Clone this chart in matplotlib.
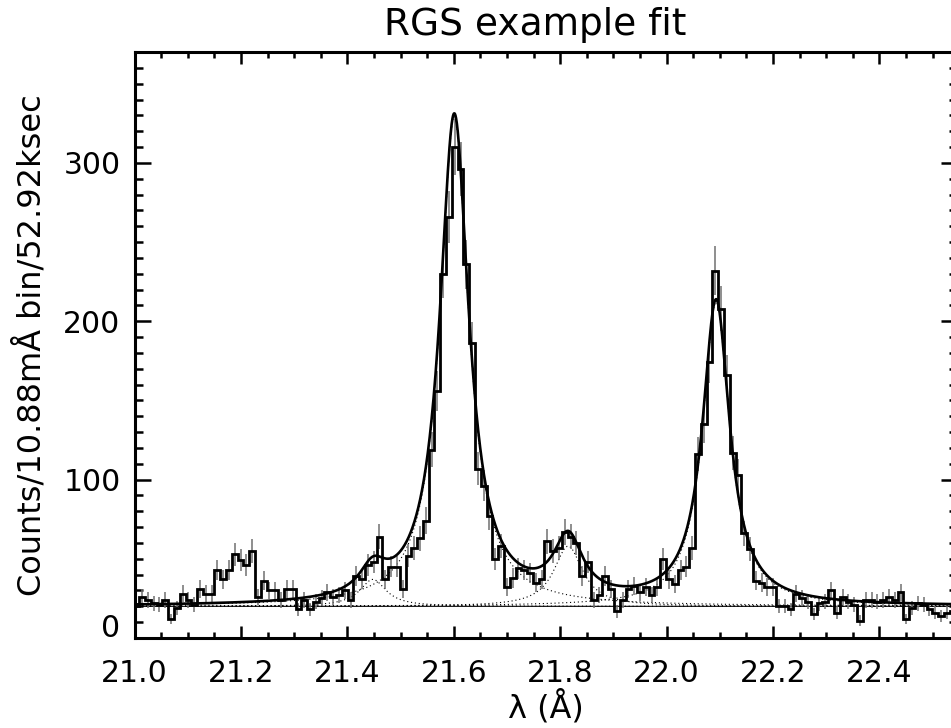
import numpy as np
import matplotlib.pyplot as plt
from matplotlib.ticker import MultipleLocator

# binned spectrum (counts per 10.88 mA bin)
bin_start = 20.998
bin_width = 0.01088
counts = [20, 26, 24, 22, 21, 24, 12, 19, 28, 24,
          21, 31, 28, 28, 43, 37, 43, 53, 49, 46,
          55, 26, 36, 30, 30, 24, 31, 31, 18, 24,
          18, 23, 25, 29, 26, 27, 30, 24, 39, 37,
          46, 48, 64, 37, 45, 45, 31, 52, 57, 63,
          74, 119, 156, 230, 266, 310, 296, 236, 186, 107,
          96, 77, 50, 58, 32, 38, 44, 43, 41, 35,
          37, 61, 55, 57, 67, 64, 60, 39, 48, 24,
          27, 39, 31, 17, 24, 31, 33, 29, 32, 27,
          32, 50, 37, 34, 43, 45, 57, 116, 135, 174,
          232, 208, 166, 117, 103, 66, 56, 36, 35, 32,
          32, 20, 20, 18, 28, 25, 23, 15, 22, 23,
          30, 16, 26, 23, 21, 11, 24, 24, 23, 24,
          26, 24, 29, 12, 19, 22, 21, 18, 16, 14,
          16, 17]

# fitted model: flat continuum + lorentzian lines
continuum = 20.0
line_centers = [21.448, 21.601, 21.815, 22.093]
line_peaks = [17, 309, 38, 192]
line_hwhm = [0.030, 0.033, 0.033, 0.031]

xticks = [21.0, 21.2, 21.4, 21.6, 21.8, 22.0, 22.2, 22.4]
yticks = [0, 100, 200, 300]

counts = np.array(counts, dtype=float)
edges = bin_start + bin_width * np.arange(len(counts) + 1)
mids = edges[:-1] + bin_width / 2

fig = plt.figure(figsize=(9.51, 7.28), dpi=100)
ax = fig.add_axes([134.5 / 951, 90 / 728, (956.6 - 134.5) / 951, 586 / 728])

ax.errorbar(mids, counts, yerr=np.sqrt(counts), fmt='none',
            ecolor='#707070', elinewidth=1.1, zorder=2)
ax.stairs(counts, edges, color='black', lw=2.0, zorder=3)

wave = np.linspace(21.0, 22.545, 3000)
profiles = [p / (1 + ((wave - c) / w) ** 2)
            for c, p, w in zip(line_centers, line_peaks, line_hwhm)]
for prof in profiles:
    ax.plot(wave, continuum + prof, color='black', lw=0.8,
            ls=(0, (1, 2.5)), zorder=1)
ax.plot(wave, np.full_like(wave, continuum), color='black', lw=0.8, zorder=1)
ax.plot(wave, continuum + np.sum(profiles, axis=0), color='black', lw=1.9, zorder=4)

ax.set_xlim(21.0, 22.545)
ax.set_ylim(0, 370)
ax.set_xticks(xticks)
ax.set_xticklabels([f'{t:.1f}' for t in xticks])
ax.xaxis.set_minor_locator(MultipleLocator(0.05))
ax.set_yticks(yticks)
ax.set_yticklabels([''] + [str(t) for t in yticks[1:]])
ax.yaxis.set_minor_locator(MultipleLocator(10))

ax.tick_params(which='both', direction='in', top=True, right=True,
               width=1.8, labelsize=21.5)
ax.tick_params(axis='x', which='major', length=8.4, pad=15)
ax.tick_params(axis='x', which='minor', length=4.2)
ax.tick_params(axis='y', which='major', length=11.8, pad=10)
ax.tick_params(axis='y', which='minor', length=5.9)
for s in ax.spines.values():
    s.set_linewidth(2.2)

ax.annotate('0', xy=(0, 0), xycoords=ax.get_yaxis_transform(),
            xytext=(-10, 7), textcoords='offset points',
            ha='right', va='center', fontsize=21.5)

ax.set_xlabel('λ (Å)', fontsize=23)
ax.xaxis.set_label_coords(0.5, -0.088)
ax.set_ylabel('Counts/10.88mÅ bin/52.92ksec', fontsize=23)
ax.yaxis.set_label_coords(-0.1057, 0.5)
fig.text(535 / 951, 693 / 728, 'RGS example fit', ha='center',
         va='baseline', fontsize=27)

fig.savefig('out.png', dpi=100)
